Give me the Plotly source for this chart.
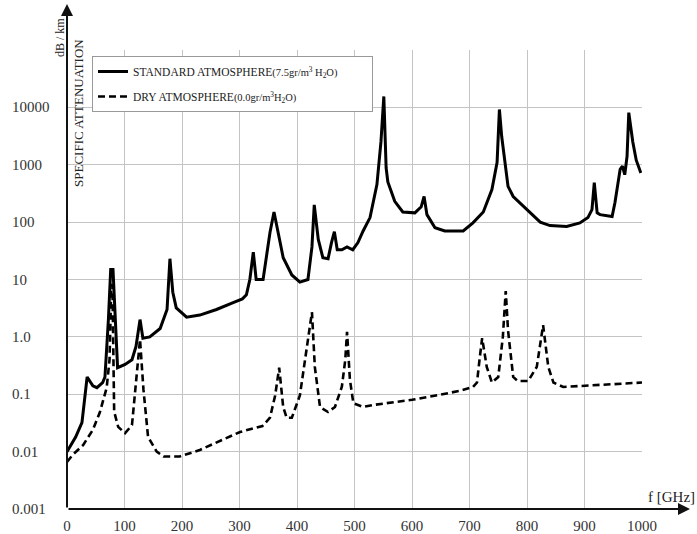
import plotly.graph_objects as go
import math

# ---------------- data ----------------
std_f = [0, 15, 26, 35, 45, 52, 62, 66, 72, 76, 80, 84, 88, 101, 113, 120, 127, 132, 144, 162, 174, 179,
         184, 190, 208, 231, 260, 290, 305, 312, 318, 324, 329, 341, 353, 360, 367, 376, 391, 405, 419,
         426, 430, 437, 445, 454, 460, 465, 470, 478, 487, 497, 506, 515, 527, 539, 546, 551, 555, 558,
         570, 584, 605, 616, 621, 626, 640, 657, 689, 706, 724, 739, 748, 752, 756, 767, 776, 800, 823,
         840, 869, 892, 906, 913, 917, 922, 927, 948, 953, 962, 966, 970, 974, 977, 984, 990, 998]
std_v = [0.01, 0.018, 0.032, 0.2, 0.14, 0.13, 0.16, 0.2, 2.0, 15, 15, 1.5, 0.29, 0.33, 0.4, 0.68, 2.0, 0.95,
         1.0, 1.4, 3.0, 23, 6.0, 3.2, 2.2, 2.4, 3.0, 4.0, 4.6, 5.4, 10, 30, 10, 10, 66, 150, 66, 24, 12, 9,
         10, 37, 200, 50, 24, 23, 44, 68, 33, 33, 37, 33, 44, 70, 120, 450, 2500, 15500, 880, 500,
         230, 150, 145, 185, 280, 135, 80, 70, 70, 97, 150, 370, 1100, 9200, 3100, 420, 280, 165, 100,
         87, 84, 97, 120, 165, 490, 145, 135, 125, 220, 830, 950, 670, 1400, 8100, 2500, 1200, 720]

dry_f = [0, 10, 28, 45, 57, 69, 74, 77, 79, 82, 89, 101, 113, 118, 124, 127, 133, 141, 156, 168, 196, 231,
         301, 340, 353, 362, 369, 376, 382, 391, 405, 414, 426, 431, 440, 454, 466, 478, 484, 487, 492,
         498, 515, 532, 600, 649, 683, 706, 713, 718, 722, 730, 739, 750, 758, 763, 767, 776, 784, 802,
         817, 828, 837, 846, 863, 1000]
dry_v = [0.0066, 0.0088, 0.013, 0.024, 0.048, 0.13, 0.4, 8, 8, 0.05, 0.027, 0.021, 0.029, 0.095, 0.4, 0.9,
         0.12, 0.018, 0.01, 0.0082, 0.0082, 0.0107, 0.022, 0.028, 0.039, 0.095, 0.29, 0.06, 0.039, 0.039,
         0.095, 0.4, 2.7, 0.3, 0.06, 0.049, 0.06, 0.135, 0.4, 1.23, 0.18, 0.07, 0.06, 0.065, 0.08, 0.098,
         0.115, 0.134, 0.16, 0.45, 0.95, 0.3, 0.16, 0.2, 1.0, 6.3, 1.3, 0.2, 0.17, 0.17, 0.3, 1.6, 0.3,
         0.16, 0.134, 0.16]

x_ticks = [0, 100, 200, 300, 400, 500, 600, 700, 800, 900, 1000]
x_labels = [str(v) for v in x_ticks]
y_ticks = [0.001, 0.01, 0.1, 1, 10, 100, 1000, 10000]
y_labels = ["0.001", "0.01", "0.1", "1.0", "10", "100", "1000", "10000"]
y_grid = [0.001, 0.01, 0.1, 1, 10, 100, 1000, 10000, 100000]

name_std = ("STANDARD ATMOSPHERE<span style='font-size:10.5px'>(7.5gr/m<sup>3</sup> H<sub>2</sub>O)"
            "</span>" + "&nbsp;" * 10)
name_dry = "DRY ATMOSPHERE<span style='font-size:10.5px'>(0.0gr/m<sup>3</sup>H<sub>2</sub>O)</span>"

FONT = "Liberation Serif"

fig = go.Figure()
fig.add_trace(go.Scatter(x=std_f, y=std_v, mode="lines", name=name_std, legendgroup="a",
                         line=dict(color="black", width=3)))
fig.add_trace(go.Scatter(x=dry_f, y=dry_v, mode="lines", name=name_dry, legendgroup="b",
                         line=dict(color="black", width=2.6, dash="7px,4px")))

# plot geometry (px)
L, R, T, B = 67, 55, 50, 25
W, H = 697, 534
pw, ph = W - L - R, H - T - B

fig.update_layout(
    width=W, height=H,
    margin=dict(l=L, r=R, t=T, b=B, pad=0, autoexpand=False),
    paper_bgcolor="white", plot_bgcolor="white",
    font=dict(family=FONT, color="#222", size=15),
    showlegend=True,
    legend=dict(x=(92 - L) / pw, y=(H - B - 56) / ph, xanchor="left", yanchor="top",
                bgcolor="white", bordercolor="#999", borderwidth=1,
                font=dict(family=FONT, size=11.5, color="#222"),
                itemwidth=30, tracegroupgap=6),
    xaxis=dict(range=[0, 1000], tickvals=x_ticks, ticktext=x_labels, automargin=False,
               showgrid=True, gridcolor="#c4c4c4", gridwidth=1,
               zeroline=False, showline=False, ticks="", ticklabelstandoff=6,
               tickfont=dict(family=FONT, size=15, color="#333")),
    yaxis=dict(type="log", range=[-3, 5], tickvals=y_grid, showticklabels=False, automargin=False,
               showgrid=True, gridcolor="#c4c4c4", gridwidth=1,
               zeroline=False, showline=False, ticks=""),
)

# y tick labels, left aligned
for v, t in zip(y_ticks, y_labels):
    fig.add_annotation(x=(10 - L) / pw, xref="paper", y=math.log10(v), yref="y",
                       text=t, showarrow=False, xanchor="left", yanchor="middle",
                       font=dict(family=FONT, size=15, color="#333"))

# axis arrows
x_head = (690 - L) / pw
y_head = (H - B - 4) / ph
fig.add_annotation(x=x_head, y=0, xref="paper", yref="paper", ax=-(690 - L), ay=0,
                   showarrow=True, arrowhead=2, arrowsize=1.2, arrowwidth=2, arrowcolor="#111", text="")
fig.add_annotation(x=0, y=y_head, xref="paper", yref="paper", ax=0, ay=(H - B - 4),
                   showarrow=True, arrowhead=2, arrowsize=1.2, arrowwidth=2, arrowcolor="#111", text="")

# axis titles
fig.add_annotation(x=(697 - L) / pw, y=(H - B - 497) / ph, xref="paper", yref="paper",
                   text="f [GHz]", showarrow=False, xanchor="right", yanchor="middle",
                   font=dict(family=FONT, size=15, color="#222"))
fig.add_annotation(x=(60 - L) / pw, y=(H - B - 38) / ph, xref="paper", yref="paper",
                   text="dB / km", showarrow=False, textangle=-90, xanchor="center", yanchor="middle",
                   font=dict(family=FONT, size=12, color="#222"))
fig.add_annotation(x=(79 - L) / pw, y=(H - B - 113) / ph, xref="paper", yref="paper",
                   text="SPECIFIC ATTENUATION", showarrow=False, textangle=-90,
                   xanchor="center", yanchor="middle",
                   font=dict(family=FONT, size=13, color="#222"))

fig.write_html("out.html")
